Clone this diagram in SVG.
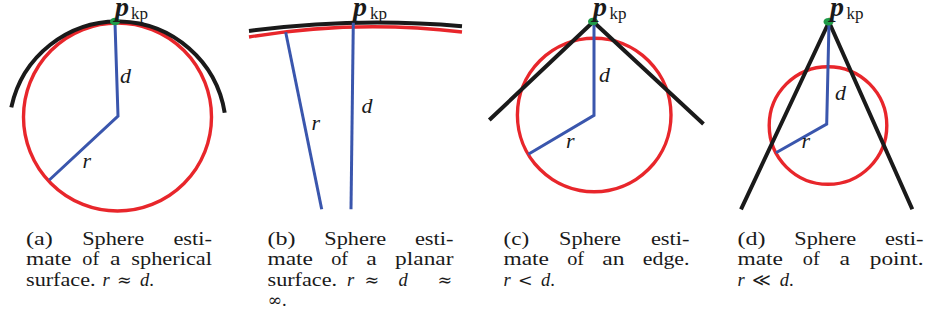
<svg xmlns="http://www.w3.org/2000/svg" width="926" height="321" viewBox="0 0 926 321">
<style>
.red{fill:none;stroke:#e8262b;stroke-width:3.4}
.blk{fill:none;stroke:#1a1a1a;stroke-width:4;stroke-linejoin:miter}
.blu{fill:none;stroke:#3a56ad;stroke-width:3;stroke-linejoin:miter}
.dot{fill:#1f9a48}
.pk{font-family:"Liberation Serif","DejaVu Serif",serif;fill:#1a1a1a}
.pb{font-size:28px;font-weight:bold;font-style:italic}
.sub{font-size:17px}
.lab{font-family:"Liberation Serif","DejaVu Serif",serif;font-size:22px;font-style:italic;fill:#1a1a1a}
.cap{font-family:"Liberation Serif","DejaVu Serif",serif;font-size:18.5px;fill:#1a1a1a}
.mi{font-style:italic}
.rel{font-family:"DejaVu Serif","Liberation Serif",serif;font-size:17.5px}
</style>
<rect width="926" height="321" fill="#fff"/>

<g id="panel-a">
<circle class="red" cx="117.5" cy="117" r="94"/>
<path class="blk" d="M11.3 107.3 A108.6 108.6 0 0 1 224.7 112.7"/>
<polyline class="blu" points="115,23 118,116 49.3,180"/>
<ellipse class="dot" cx="115" cy="21.5" rx="5" ry="3.8"/>
<text class="pk" x="115" y="15.5"><tspan class="pb">p</tspan><tspan class="sub" x="131" y="18.5">kp</tspan></text>
<text class="lab" x="120" y="83">d</text>
<text class="lab" x="82.5" y="168">r</text>
</g>

<g id="panel-b">
<path class="red" d="M249 37 A753 753 0 0 1 462 32"/>
<path class="blk" d="M249 31 A969 969 0 0 1 462 26.2"/>
<line class="blu" x1="353.3" y1="22.7" x2="351" y2="209.3"/>
<line class="blu" x1="285.7" y1="32.3" x2="321.7" y2="209.3"/>
<text class="pk" x="353" y="15.5"><tspan class="pb">p</tspan><tspan class="sub" x="370" y="18.5">kp</tspan></text>
<text class="lab" x="361.5" y="113">d</text>
<text class="lab" x="311.5" y="130">r</text>
</g>

<g id="panel-c">
<circle class="red" cx="594.2" cy="115" r="76.8"/>
<path class="blk" d="M489.3 120 L593.3 21.7 L703.5 124"/>
<polyline class="blu" points="594,23 594,115.3 528.3,154.3"/>
<ellipse class="dot" cx="593" cy="21.5" rx="5" ry="3.8"/>
<text class="pk" x="593" y="15.5"><tspan class="pb">p</tspan><tspan class="sub" x="609.5" y="18.5">kp</tspan></text>
<text class="lab" x="599" y="82">d</text>
<text class="lab" x="566" y="148">r</text>
</g>

<g id="panel-d">
<circle class="red" cx="828" cy="125.5" r="58.8"/>
<path class="blk" d="M741 209.3 L829 22 L912.3 209.3"/>
<polyline class="blu" points="829,23 826.7,124 776,152.7"/>
<ellipse class="dot" cx="828.5" cy="21.7" rx="5" ry="3.8"/>
<text class="pk" x="830" y="15.5"><tspan class="pb">p</tspan><tspan class="sub" x="846.5" y="18.5">kp</tspan></text>
<text class="lab" x="835" y="100">d</text>
<text class="lab" x="801.5" y="148">r</text>
</g>

<g id="caption-a" class="cap" transform="translate(26,0)">
<text x="0" y="244.5" textLength="26.8" lengthAdjust="spacingAndGlyphs">(a)</text>
<text x="56.2" y="244.5" textLength="61.9" lengthAdjust="spacingAndGlyphs">Sphere</text>
<text x="147.4" y="244.5" textLength="38.6" lengthAdjust="spacingAndGlyphs">esti-</text>
<text x="0" y="265" textLength="45.5" lengthAdjust="spacingAndGlyphs">mate</text>
<text x="56.3" y="265" textLength="16.9" lengthAdjust="spacingAndGlyphs">of</text>
<text x="84" y="265" textLength="10.5" lengthAdjust="spacingAndGlyphs">a</text>
<text x="105.3" y="265" textLength="80.7" lengthAdjust="spacingAndGlyphs">spherical</text>
<text x="0" y="285.5" textLength="69.6" lengthAdjust="spacingAndGlyphs">surface.</text>
<text x="76.6" y="285.5" class="mi">r</text>
<text x="91" y="285.5" class="rel">≈</text>
<text x="114.1" y="285.5"><tspan class="mi">d</tspan>.</text>
</g>

<g id="caption-b" class="cap" transform="translate(267.5,0)">
<text x="0" y="244.5" textLength="28" lengthAdjust="spacingAndGlyphs">(b)</text>
<text x="56.8" y="244.5" textLength="61.9" lengthAdjust="spacingAndGlyphs">Sphere</text>
<text x="147.4" y="244.5" textLength="38.6" lengthAdjust="spacingAndGlyphs">esti-</text>
<text x="0" y="265" textLength="45.5" lengthAdjust="spacingAndGlyphs">mate</text>
<text x="63.7" y="265" textLength="16.9" lengthAdjust="spacingAndGlyphs">of</text>
<text x="98.8" y="265" textLength="10.5" lengthAdjust="spacingAndGlyphs">a</text>
<text x="127.6" y="265" textLength="58.4" lengthAdjust="spacingAndGlyphs">planar</text>
<text x="0" y="285.5" textLength="69.6" lengthAdjust="spacingAndGlyphs">surface.</text>
<text x="79.5" y="285.5" class="mi">r</text>
<text x="97" y="285.5" class="rel">≈</text>
<text x="131" y="285.5" class="mi">d</text>
<text x="170" y="285.5" class="rel">≈</text>
<text x="0" y="306"><tspan class="rel">∞</tspan>.</text>
</g>

<g id="caption-c" class="cap" transform="translate(503.5,0)">
<text x="0" y="244.5" textLength="25.7" lengthAdjust="spacingAndGlyphs">(c)</text>
<text x="55.6" y="244.5" textLength="61.9" lengthAdjust="spacingAndGlyphs">Sphere</text>
<text x="147.4" y="244.5" textLength="38.6" lengthAdjust="spacingAndGlyphs">esti-</text>
<text x="0" y="265" textLength="45.5" lengthAdjust="spacingAndGlyphs">mate</text>
<text x="63.7" y="265" textLength="16.9" lengthAdjust="spacingAndGlyphs">of</text>
<text x="98.8" y="265" textLength="22.2" lengthAdjust="spacingAndGlyphs">an</text>
<text x="139.3" y="265" textLength="46.7" lengthAdjust="spacingAndGlyphs">edge.</text>
<text x="0" y="285.5" class="mi">r</text>
<text x="14.5" y="285.5" class="rel">&lt;</text>
<text x="37.5" y="285.5"><tspan class="mi">d</tspan>.</text>
</g>

<g id="caption-d" class="cap" transform="translate(737.5,0)">
<text x="0" y="244.5" textLength="28" lengthAdjust="spacingAndGlyphs">(d)</text>
<text x="56.8" y="244.5" textLength="61.9" lengthAdjust="spacingAndGlyphs">Sphere</text>
<text x="147.4" y="244.5" textLength="38.6" lengthAdjust="spacingAndGlyphs">esti-</text>
<text x="0" y="265" textLength="45.5" lengthAdjust="spacingAndGlyphs">mate</text>
<text x="65.3" y="265" textLength="16.9" lengthAdjust="spacingAndGlyphs">of</text>
<text x="102" y="265" textLength="10.5" lengthAdjust="spacingAndGlyphs">a</text>
<text x="132.3" y="265" textLength="53.7" lengthAdjust="spacingAndGlyphs">point.</text>
<text x="0" y="285.5" class="mi">r</text>
<text x="14.5" y="285.5" class="rel">≪</text>
<text x="42.2" y="285.5"><tspan class="mi">d</tspan>.</text>
</g>
</svg>
